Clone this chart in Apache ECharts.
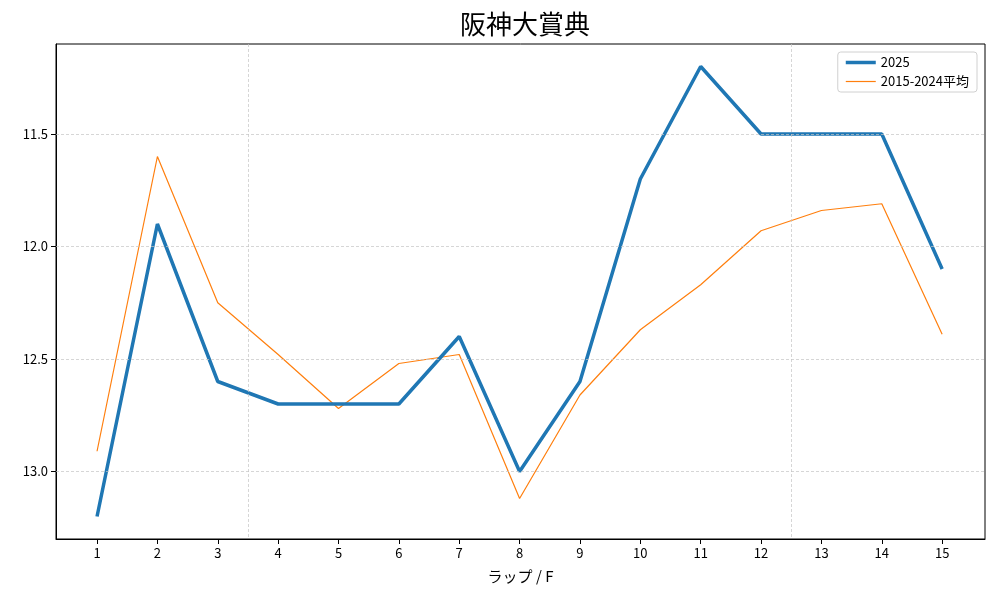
<!DOCTYPE html>
<html>
<head>
<meta charset="utf-8">
<script src="https://cdn.jsdelivr.net/npm/echarts@6/dist/echarts.min.js"></script>
<style>
  html, body { margin: 0; padding: 0; background: #fff; }
  #chart { width: 1000px; height: 600px; }
</style>
</head>
<body>
<div id="chart"></div>
<script>
// ハロン番号とラップタイム
var furlongs = [1, 2, 3, 4, 5, 6, 7, 8, 9, 10, 11, 12, 13, 14, 15];
var lap2025 = [13.2, 11.9, 12.6, 12.7, 12.7, 12.7, 12.4, 13.0, 12.6, 11.7, 11.2, 11.5, 11.5, 11.5, 12.1];
var lapAvg = [12.91, 11.6, 12.25, 12.48, 12.72, 12.52, 12.48, 13.12, 12.66, 12.37, 12.17, 11.93, 11.84, 11.81, 12.39];
var yTicks = [11.5, 12.0, 12.5, 13.0];
var sectionLines = [3.5, 12.5];

var font = "'Noto Sans CJK JP', 'DejaVu Sans', sans-serif";
var myChart = echarts.init(document.getElementById("chart"));

var gridStyle = { color: "#c4c4c4", type: [3, 2], width: 0.7 };

var option = {
  animation: false,
  textStyle: { fontFamily: font },
  title: {
    text: "阪神大賞典",
    left: 520,
    textAlign: "center",
    top: 6,
    textStyle: { fontFamily: font, fontSize: 26, fontWeight: "normal", color: "#000" },
  },
  legend: {
    orient: "vertical",
    right: 23,
    top: 52,
    itemWidth: 30,
    itemHeight: 12,
    itemGap: 6,
    padding: [4, 8, 4, 8],
    borderColor: "#d0d0d0",
    borderWidth: 1,
    borderRadius: 3,
    symbolKeepAspect: true,
    textStyle: { fontFamily: font, fontSize: 13, color: "#000" },
    data: [
      { name: "2025", icon: "path://M0,0H30V3.5H0Z" },
      { name: "2015-2024平均", icon: "path://M0,0H30V1.2H0Z" },
    ],
  },
  grid: { left: 56, right: 15, top: 44, bottom: 61, show: true, borderColor: "#000", borderWidth: 1 },
  xAxis: {
    type: "value",
    min: 0.32,
    max: 15.71,
    name: "ラップ / F",
    nameLocation: "middle",
    nameGap: 30,
    nameTextStyle: { fontFamily: font, fontSize: 15, color: "#000" },
    axisLine: { show: true, onZero: false, lineStyle: { color: "#000" } },
    axisTick: { show: true, customValues: furlongs, length: 5, lineStyle: { color: "#000" } },
    axisLabel: { customValues: furlongs, fontSize: 13, color: "#000", margin: 8 },
    splitLine: { show: false },
  },
  yAxis: {
    type: "value",
    inverse: true,
    min: 11.1,
    max: 13.3,
    axisLine: { show: true, lineStyle: { color: "#000" } },
    axisTick: { show: true, customValues: yTicks, length: 5, lineStyle: { color: "#000" } },
    axisLabel: {
      customValues: yTicks,
      fontSize: 13,
      color: "#000",
      margin: 8,
      formatter: function (v) { return v.toFixed(1); },
    },
    splitLine: { show: false },
  },
  series: [
    {
      name: "2025",
      type: "line",
      data: furlongs.map(function (f, i) { return [f, lap2025[i]]; }),
      symbol: "none",
      color: "#1f77b4",
      lineStyle: { width: 3.5, color: "#1f77b4" },
      z: 3,
      markLine: {
        silent: true,
        symbol: "none",
        label: { show: false },
        lineStyle: gridStyle,
        data: yTicks.map(function (v) { return { yAxis: v }; })
          .concat(sectionLines.map(function (v) { return { xAxis: v }; })),
      },
    },
    {
      name: "2015-2024平均",
      type: "line",
      data: furlongs.map(function (f, i) { return [f, lapAvg[i]]; }),
      symbol: "none",
      color: "#ff7f0e",
      lineStyle: { width: 1.2, color: "#ff7f0e" },
      z: 2,
    },
  ],
};

myChart.setOption(option);
</script>
</body>
</html>
